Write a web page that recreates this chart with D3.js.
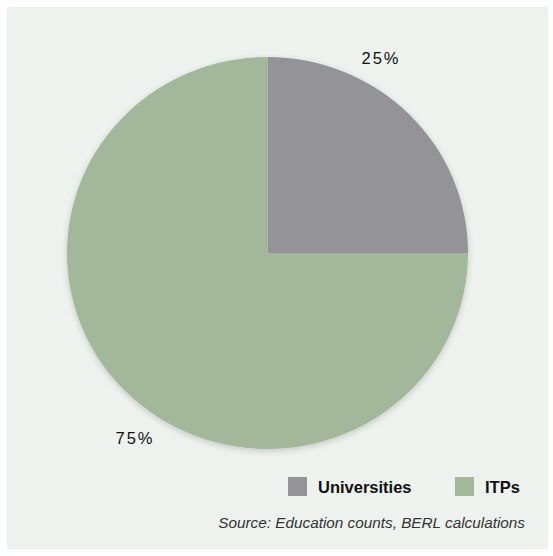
<!DOCTYPE html>
<html>
<head>
<meta charset="utf-8">
<script src="https://cdn.jsdelivr.net/npm/d3@7"></script>
<style>
  html, body { margin: 0; padding: 0; background: #ffffff; }
  svg { display: block; }
</style>
</head>
<body>
<svg id="chart" width="553" height="556"></svg>
<script>
// Share of enrolments by provider type
const categories = ["Universities", "ITPs"];
const shares = [25, 75];
const colours = ["#939398", "#a3b89b"];
const sourceNote = "Source: Education counts, BERL calculations";

const svg = d3.select("#chart");

// light panel behind the chart
svg.append("rect")
  .attr("x", 7).attr("y", 7)
  .attr("width", 541).attr("height", 542)
  .attr("fill", "#eef2ee");

const defs = svg.append("defs");
const shadow = defs.append("filter").attr("id", "soft")
  .attr("x", "-10%").attr("y", "-10%").attr("width", "120%").attr("height", "125%");
shadow.append("feGaussianBlur").attr("in", "SourceAlpha").attr("stdDeviation", 3);
shadow.append("feOffset").attr("dy", 2).attr("result", "b");
shadow.append("feComponentTransfer").append("feFuncA").attr("type", "linear").attr("slope", 0.18);
const merge = shadow.append("feMerge");
merge.append("feMergeNode");
merge.append("feMergeNode").attr("in", "SourceGraphic");

const cx = 267.5, cy = 253, r = 200.5, ry = 196;

const pie = d3.pie().sort(null).value(d => d.v);
const arcs = pie(categories.map((c, i) => ({ c, v: shares[i], col: colours[i] })));
const arc = d3.arc().innerRadius(0).outerRadius(r);

const g = svg.append("g")
  .attr("transform", `translate(${cx},${cy}) scale(1,${ry / r})`)
  .attr("filter", "url(#soft)");

g.selectAll("path").data(arcs).enter().append("path")
  .attr("d", arc)
  .attr("fill", d => d.data.col);

// percentage labels just outside the rim
const labelPos = [[381, 64], [135, 444]];
svg.selectAll("text.pct").data(arcs).enter().append("text")
  .attr("class", "pct")
  .attr("x", (d, i) => labelPos[i][0])
  .attr("y", (d, i) => labelPos[i][1])
  .attr("text-anchor", "middle")
  .attr("font-family", "Liberation Sans, Arial, sans-serif")
  .attr("font-size", 16.5)
  .attr("letter-spacing", 2)
  .attr("fill", "#111")
  .text(d => d.data.v + "%");

// legend
const legendX = [288, 455];
const lg = svg.selectAll("g.leg").data(categories).enter().append("g")
  .attr("class", "leg")
  .attr("transform", (d, i) => `translate(${legendX[i]},477)`);
lg.append("rect").attr("width", 19).attr("height", 19)
  .attr("fill", (d, i) => colours[i]);
lg.append("text")
  .attr("x", 30).attr("y", 15.5)
  .attr("font-family", "Liberation Sans, Arial, sans-serif")
  .attr("font-size", 16.5)
  .attr("font-weight", "bold")
  .attr("fill", "#111")
  .text(d => d);

svg.append("text")
  .attr("x", 525).attr("y", 528)
  .attr("text-anchor", "end")
  .attr("font-family", "Liberation Sans, Arial, sans-serif")
  .attr("font-size", 15.3)
  .attr("font-style", "italic")
  .attr("fill", "#333")
  .text(sourceNote);
</script>
</body>
</html>
